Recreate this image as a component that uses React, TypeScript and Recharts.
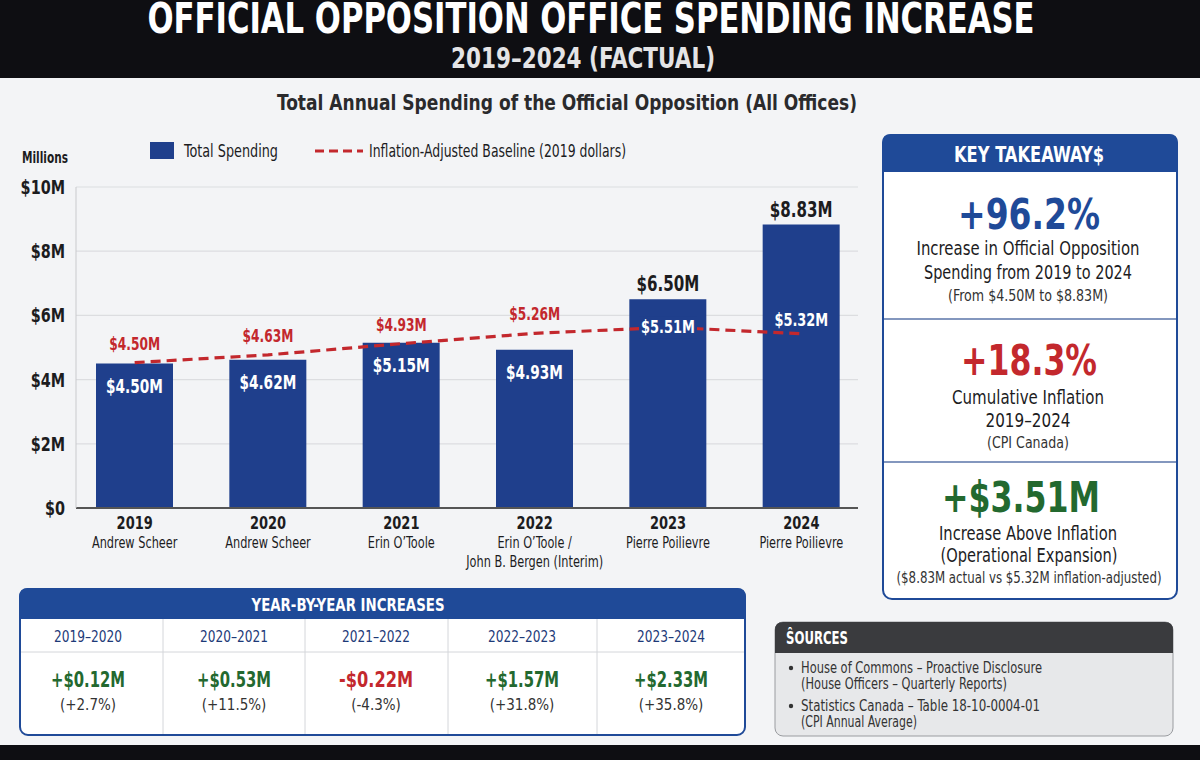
import React from "react";
import { ComposedChart, Bar, Line, XAxis, YAxis, CartesianGrid, LabelList } from "recharts";

const FONT = "'Liberation Sans Narrow','DejaVu Sans Condensed','Roboto Condensed',Roboto,Arial,sans-serif";
const BAR_BLUE = "#1f3f8c";
const HEAD_BLUE = "#1f4a98";
const RED = "#c3282d";
const GREEN = "#23692f";
const INK = "#1c1c1e";

// chart data
const years = ["2019", "2020", "2021", "2022", "2023", "2024"];
const leaders = [
  ["Andrew Scheer"],
  ["Andrew Scheer"],
  ["Erin O’Toole"],
  ["Erin O’Toole /", "John B. Bergen (Interim)"],
  ["Pierre Poilievre"],
  ["Pierre Poilievre"],
];
const totalSpending = [4.5, 4.62, 5.15, 4.93, 6.5, 8.83];
// where the dashed baseline is drawn, and what its labels say
const baselineLine = [4.53, 4.77, 5.12, 5.44, 5.63, 5.43];
const baselineLabels = [4.5, 4.63, 4.93, 5.26, 5.51, 5.32];
const yTicks = [0, 2, 4, 6, 8, 10];

// year-by-year table
const periods = ["2019–2020", "2020–2021", "2021–2022", "2022–2023", "2023–2024"];
const changeAmounts = [0.12, 0.53, -0.22, 1.57, 2.33];
const changePcts = [2.7, 11.5, -4.3, 31.8, 35.8];

const sources = [
  ["House of Commons – Proactive Disclosure", "(House Officers – Quarterly Reports)"],
  ["Statistics Canada – Table 18-10-0004-01", "(CPI Annual Average)"],
];

const chartData = years.map((year, i) => ({
  year,
  total: totalSpending[i],
  baseline: baselineLine[i],
}));

const money = (v: number) => `$${v.toFixed(2)}M`;

type TxtProps = {
  x: number;
  c: number;
  s: number;
  w?: number;
  fill?: string;
  weight?: number;
  anchor?: "start" | "middle" | "end";
  children: React.ReactNode;
};

function Txt({ x, c, s, w, fill = INK, weight = 400, anchor = "middle", children }: TxtProps) {
  const fit = w ? { textLength: w, lengthAdjust: "spacingAndGlyphs" as const } : {};
  return (
    <text x={x} y={c + s * 0.35} fontSize={s} fill={fill} fontWeight={weight} textAnchor={anchor} fontFamily={FONT} {...fit}>
      {children}
    </text>
  );
}

// narrow text for the chart labels (the source uses a condensed face)
function NText({ x, y, s, fill = INK, weight = 700, anchor = "middle", sx = 0.8, children }: any) {
  return (
    <text
      transform={`translate(${x} ${y}) scale(${sx} 1)`}
      fontSize={s}
      fill={fill}
      fontWeight={weight}
      textAnchor={anchor}
      fontFamily={FONT}
    >
      {children}
    </text>
  );
}

function YearTick(props: any) {
  const { x, y, payload } = props;
  const i = years.indexOf(payload.value);
  const lines = leaders[i] || [];
  return (
    <g>
      <NText x={x} y={y + 21} s={17} sx={0.85}>
        {payload.value}
      </NText>
      {lines.map((t, k) => (
        <NText key={k} x={x} y={y + 40 + k * 19} s={15} weight={400} sx={0.84}>
          {t}
        </NText>
      ))}
    </g>
  );
}

function MoneyTick(props: any) {
  const { x, y, payload } = props;
  const v = payload.value;
  return (
    <NText x={x} y={y + 7} s={20} anchor="end" sx={0.8}>
      {v === 0 ? "$0" : `$${v}M`}
    </NText>
  );
}

function BarValueLabel(props: any) {
  const { x, y, width, index, value } = props;
  const cx = x + width / 2;
  if (index < 4) {
    return (
      <NText x={cx} y={y + 22 + 7} s={19} fill="#fff" sx={0.8}>
        {money(value)}
      </NText>
    );
  }
  return (
    <NText x={cx} y={y - 15 + 7} s={21} fill={INK} sx={0.8}>
      {money(value)}
    </NText>
  );
}

function BaselineLabel(props: any) {
  const { x, y, index } = props;
  const label = money(baselineLabels[index]);
  if (index < 4) {
    return (
      <NText x={x} y={y - 19 + 6} s={17} fill={RED} sx={0.8}>
        {label}
      </NText>
    );
  }
  if (index === 4) {
    return (
      <g>
        <rect x={x - 29} y={y - 11} width={58} height={22} fill={BAR_BLUE} />
        <NText x={x} y={y + 6} s={18} fill="#fff" sx={0.8}>
          {label}
        </NText>
      </g>
    );
  }
  return (
    <NText x={x} y={y - 14 + 6} s={18} fill="#fff" sx={0.8}>
      {label}
    </NText>
  );
}

function Backdrop() {
  const colEdges = [20, 163, 305, 448, 597, 745];
  const colCenters = [88, 234, 376, 522, 671];
  return (
    <svg width={1200} height={760} style={{ position: "absolute", left: 0, top: 0 }}>
      <rect x={0} y={0} width={1200} height={760} fill="#f3f4f6" />
      <rect x={0} y={0} width={1200} height={78} fill="#0e0e12" />
      <rect x={0} y={745} width={1200} height={15} fill="#0e0e12" />

      <Txt x={591} c={18} s={42} w={887} fill="#ffffff" weight={700}>
        OFFICIAL OPPOSITION OFFICE SPENDING INCREASE
      </Txt>
      <Txt x={583} c={58} s={28} w={264} fill="#e4e4e6" weight={700}>
        2019–2024 (FACTUAL)
      </Txt>
      <Txt x={567} c={102} s={22} w={580} fill="#2a2a2c" weight={700}>
        Total Annual Spending of the Official Opposition (All Offices)
      </Txt>

      {/* legend */}
      <rect x={150} y={142} width={24} height={17} fill={BAR_BLUE} />
      <Txt x={184} c={151} s={17} w={94} anchor="start">
        Total Spending
      </Txt>
      <line x1={315} x2={363} y1={151} y2={151} stroke={RED} strokeWidth={3} strokeDasharray="9 5" />
      <Txt x={369} c={151} s={17} w={257} anchor="start">
        Inflation-Adjusted Baseline (2019 dollars)
      </Txt>
      <Txt x={22} c={158} s={15} w={46} anchor="start" weight={700}>
        Millions
      </Txt>

      {/* key takeaways */}
      <rect x={883} y={135} width={294} height={464} rx={9} fill="#ffffff" stroke={HEAD_BLUE} strokeWidth={2} />
      <path d="M882 172 V143 Q882 134 891 134 H1169 Q1178 134 1178 143 V172 Z" fill={HEAD_BLUE} />
      <Txt x={1029} c={155} s={21} w={150} fill="#ffffff" weight={700}>
        KEY TAKEAWAY$
      </Txt>
      <line x1={884} x2={1176} y1={319} y2={319} stroke="#5a74a8" strokeWidth={1.5} />
      <line x1={884} x2={1176} y1={462} y2={462} stroke="#5a74a8" strokeWidth={1.5} />

      <Txt x={1029} c={214} s={42} w={142} fill={HEAD_BLUE} weight={700}>+96.2%</Txt>
      <Txt x={1028} c={248} s={19} w={223} weight={500}>Increase in Official Opposition</Txt>
      <Txt x={1028} c={272} s={19} w={208} weight={500}>Spending from 2019 to 2024</Txt>
      <Txt x={1028} c={296} s={15} w={160} fill="#333">(From $4.50M to $8.83M)</Txt>

      <Txt x={1029} c={360} s={42} w={136} fill={RED} weight={700}>+18.3%</Txt>
      <Txt x={1028} c={397} s={19} w={152} weight={500}>Cumulative Inflation</Txt>
      <Txt x={1028} c={420} s={19} w={85} weight={500}>2019–2024</Txt>
      <Txt x={1028} c={443} s={15} w={82} fill="#333">(CPI Canada)</Txt>

      <Txt x={1021} c={497} s={42} w={158} fill={GREEN} weight={700}>+$3.51M</Txt>
      <Txt x={1028} c={533} s={19} w={178} weight={500}>Increase Above Inflation</Txt>
      <Txt x={1029} c={555} s={19} w={177} weight={500}>(Operational Expansion)</Txt>
      <Txt x={1029} c={578} s={15} w={265} fill="#333">($8.83M actual vs $5.32M inflation-adjusted)</Txt>

      {/* year-by-year table */}
      <rect x={20} y={589} width={725} height={146} rx={8} fill="#ffffff" stroke={HEAD_BLUE} strokeWidth={2} />
      <path d="M19 619 V597 Q19 588 28 588 H737 Q746 588 746 597 V619 Z" fill={HEAD_BLUE} />
      <Txt x={348} c={605} s={18} w={193} fill="#ffffff" weight={700}>YEAR-BY-YEAR INCREASES</Txt>
      <line x1={21} x2={744} y1={652} y2={652} stroke="#d4d6da" strokeWidth={1} />
      {colEdges.slice(1, -1).map((x) => (
        <line key={x} x1={x} x2={x} y1={619} y2={734} stroke="#d4d6da" strokeWidth={1} />
      ))}
      {periods.map((p, i) => (
        <g key={p}>
          <Txt x={colCenters[i]} c={636} s={16} w={68} fill="#1d3a78" weight={500}>{p}</Txt>
          <Txt x={colCenters[i]} c={679} s={22} w={74} fill={changeAmounts[i] < 0 ? RED : GREEN} weight={700}>
            {(changeAmounts[i] < 0 ? "-$" : "+$") + Math.abs(changeAmounts[i]).toFixed(2) + "M"}
          </Txt>
          <Txt x={colCenters[i]} c={705} s={15} fill="#333">
            {"(" + (changePcts[i] < 0 ? "" : "+") + changePcts[i].toFixed(1) + "%)"}
          </Txt>
        </g>
      ))}

      {/* sources */}
      <rect x={775} y={622} width={398} height={114} rx={8} fill="#e7e8ea" stroke="#9a9ca0" strokeWidth={1} />
      <path d="M775 653 V630 Q775 622 783 622 H1165 Q1173 622 1173 630 V653 Z" fill="#3a3b3e" />
      <Txt x={786} c={638} s={18} w={62} fill="#ffffff" weight={700} anchor="start">ŜOURCES</Txt>
      {sources.map((lines, k) => (
        <g key={k}>
          <circle cx={791} cy={668 + k * 38} r={2.2} fill="#333" />
          <Txt x={801} c={668 + k * 38} s={15} w={k === 0 ? 241 : 239} fill="#333" anchor="start">{lines[0]}</Txt>
          <Txt x={801} c={684 + k * 38} s={15} w={k === 0 ? 206 : 116} fill="#333" anchor="start">{lines[1]}</Txt>
        </g>
      ))}
    </svg>
  );
}

export default function App() {
  return (
    <div style={{ position: "absolute", left: 0, top: 0, width: 1200, height: 760, overflow: "hidden", fontFamily: FONT }}>
      <Backdrop />
      <div style={{ position: "absolute", left: 0, top: 0 }}>
        <ComposedChart
          width={880}
          height={600}
          data={chartData}
          margin={{ top: 187, right: 22, bottom: 62, left: 20 }}
          barCategoryGap={0}
        >
          <CartesianGrid vertical={false} stroke="#dcdde0" strokeWidth={1.2} />
          <XAxis
            dataKey="year"
            height={30}
            padding={{ left: -8, right: -10 }}
            axisLine={{ stroke: "#555", strokeWidth: 2 }}
            tickLine={false}
            tickSize={0}
            tickMargin={0}
            interval={0}
            tick={<YearTick />}
          />
          <YAxis
            width={56}
            domain={[0, 10]}
            ticks={yTicks}
            interval={0}
            tickLine={false}
            tickSize={0}
            tickMargin={11}
            axisLine={{ stroke: "#c9cacd" }}
            tick={<MoneyTick />}
          />
          <Bar dataKey="total" fill={BAR_BLUE} barSize={77} isAnimationActive={false}>
            <LabelList dataKey="total" content={<BarValueLabel />} />
          </Bar>
          <Line
            type="linear"
            dataKey="baseline"
            stroke={RED}
            strokeWidth={3.2}
            strokeDasharray="10 6"
            dot={false}
            activeDot={false}
            isAnimationActive={false}
          >
            <LabelList dataKey="baseline" content={<BaselineLabel />} />
          </Line>
        </ComposedChart>
      </div>
    </div>
  );
}
